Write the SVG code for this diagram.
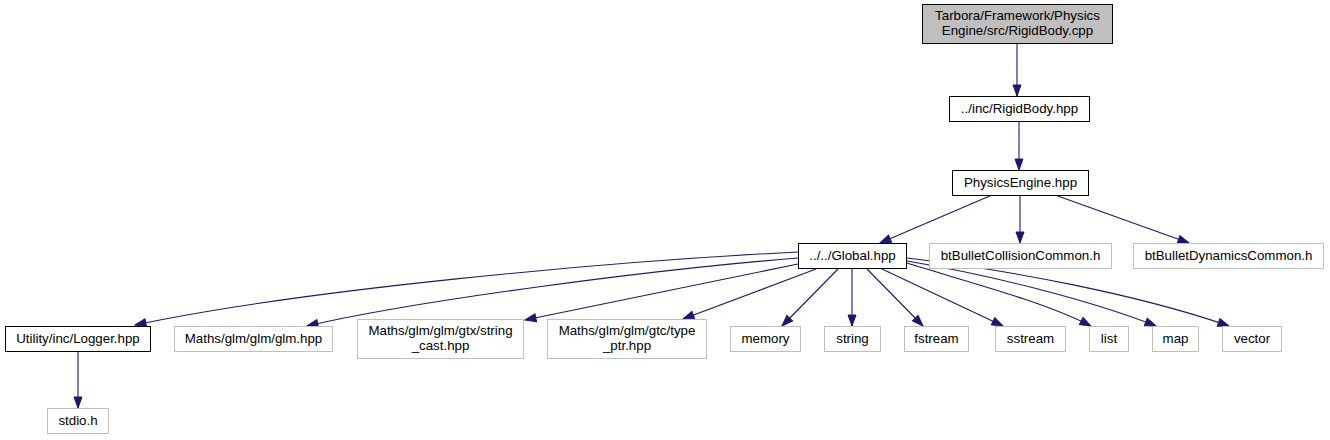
<svg xmlns="http://www.w3.org/2000/svg" width="1330" height="440" viewBox="0 0 1330 440">
<style>
.n rect{fill:#ffffff;stroke:#000000;stroke-width:1}
.g rect{fill:#ffffff;stroke:#bfbfbf;stroke-width:1}
.root rect{fill:#bfbfbf;stroke:#000000;stroke-width:1}
text{font-family:"Liberation Sans",Arial,sans-serif;font-size:13.3px;fill:#000000;text-anchor:middle}
#edges path{fill:none;stroke:#191970;stroke-width:1.1;marker-end:url(#arr)}
</style>
<defs>
<marker id="arr" viewBox="-1 -1 13 10" refX="11" refY="4" markerWidth="13" markerHeight="10" markerUnits="userSpaceOnUse" orient="auto">
<path d="M0,0 L11,4 L0,8 z" fill="#191970" stroke="#191970" stroke-width="1"/>
</marker>
</defs>
<rect width="1330" height="440" fill="#ffffff"/>
<g id="edges">
<path d="M1017,44 L1017,96"/>
<path d="M1019,121 L1019,170"/>
<path d="M992,195 L880,243"/>
<path d="M1020,195 L1020,243"/>
<path d="M1055,195 L1189,243"/>
<path d="M798,252 C600,262 300,290 135,325"/>
<path d="M798,258 C650,270 420,300 307,326"/>
<path d="M798,264 L525,320"/>
<path d="M816,269 L683,319"/>
<path d="M838,269 L782,326"/>
<path d="M852,269 L852,326"/>
<path d="M867,269 L923,326"/>
<path d="M882,269 L1003,326"/>
<path d="M907,263 C960,280 1040,300 1091,326"/>
<path d="M907,261 C990,275 1090,300 1156,326"/>
<path d="M907,258 C1010,270 1140,295 1229,326"/>
<path d="M78,351 L78,408"/>
</g>
<g id="node_root" class="root"><rect x="922.5" y="4.5" width="190" height="39"/><text x="1017.5" y="20">Tarbora/Framework/Physics</text><text x="1017.5" y="35">Engine/src/RigidBody.cpp</text></g>
<g id="node_rigidbody" class="n"><rect x="949.5" y="96.5" width="140" height="25"/><text x="1019.5" y="113">../inc/RigidBody.hpp</text></g>
<g id="node_physicsengine" class="n"><rect x="952.5" y="170.5" width="136" height="25"/><text x="1020.5" y="187">PhysicsEngine.hpp</text></g>
<g id="node_global" class="n"><rect x="798.5" y="243.5" width="108" height="25"/><text x="852.5" y="260">../../Global.hpp</text></g>
<g id="node_collision" class="g"><rect x="929.5" y="243.5" width="182" height="25"/><text x="1020.5" y="260">btBulletCollisionCommon.h</text></g>
<g id="node_dynamics" class="g"><rect x="1133.5" y="243.5" width="190" height="25"/><text x="1228.5" y="260">btBulletDynamicsCommon.h</text></g>
<g id="node_logger" class="n"><rect x="5.5" y="326.5" width="145" height="25"/><text x="78" y="343">Utility/inc/Logger.hpp</text></g>
<g id="node_glm" class="g"><rect x="174.5" y="326.5" width="158" height="25"/><text x="253.5" y="343">Maths/glm/glm/glm.hpp</text></g>
<g id="node_stringcast" class="g"><rect x="357.5" y="319.5" width="166" height="39"/><text x="440.5" y="335">Maths/glm/glm/gtx/string</text><text x="440.5" y="350">_cast.hpp</text></g>
<g id="node_typeptr" class="g"><rect x="547.5" y="319.5" width="159" height="39"/><text x="627" y="335">Maths/glm/glm/gtc/type</text><text x="627" y="350">_ptr.hpp</text></g>
<g id="node_memory" class="g"><rect x="730.5" y="326.5" width="70" height="25"/><text x="765.5" y="343">memory</text></g>
<g id="node_string" class="g"><rect x="824.5" y="326.5" width="56" height="25"/><text x="852.5" y="343">string</text></g>
<g id="node_fstream" class="g"><rect x="904.5" y="326.5" width="64" height="25"/><text x="936.5" y="343">fstream</text></g>
<g id="node_sstream" class="g"><rect x="995.5" y="326.5" width="70" height="25"/><text x="1030.5" y="343">sstream</text></g>
<g id="node_list" class="g"><rect x="1089.5" y="326.5" width="39" height="25"/><text x="1109" y="343">list</text></g>
<g id="node_map" class="g"><rect x="1152.5" y="326.5" width="46" height="25"/><text x="1175.5" y="343">map</text></g>
<g id="node_vector" class="g"><rect x="1222.5" y="326.5" width="59" height="25"/><text x="1252" y="343">vector</text></g>
<g id="node_stdio" class="g"><rect x="47.5" y="408.5" width="61" height="25"/><text x="78" y="425">stdio.h</text></g>
</svg>
